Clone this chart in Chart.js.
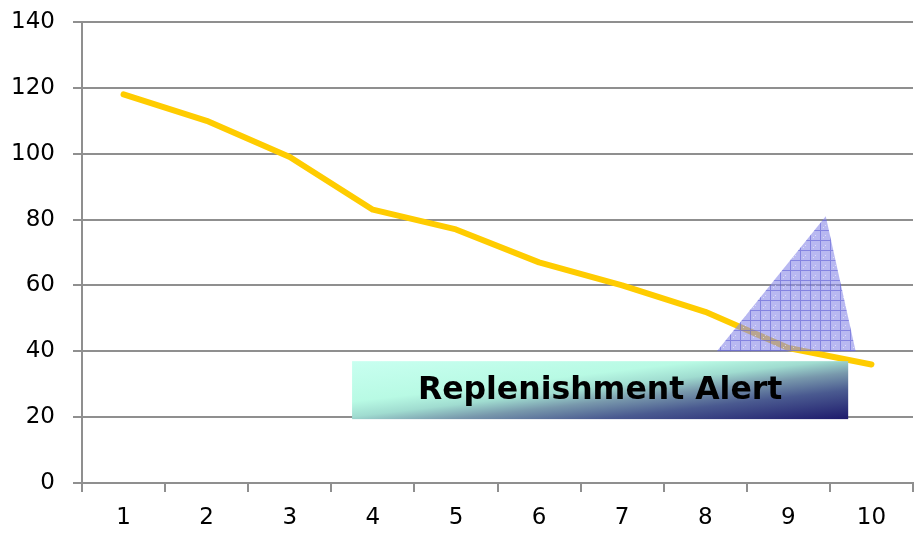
<!DOCTYPE html>
<html><head><meta charset="utf-8">
<script src="https://cdn.jsdelivr.net/npm/chart.js@4/dist/chart.umd.min.js"></script>
<style>html,body{margin:0;padding:0;background:#fff;}#wrap{width:921px;height:537px;}</style>
</head><body><div id="wrap"><canvas id="c" width="921" height="537"></canvas></div>
<script>
const categories = ['1','2','3','4','5','6','7','8','9','10'];
const stockLevel = [118,110,99,83,77,67,60,52,41,36];
const yTicks = [0,20,40,60,80,100,120,140];
// alert triangle vertices (category index, value)
const alertTriangleX = [7.14, 8.45, 8.81];
const alertTriangleY = [40, 81, 40];
// alert box corners (category index, value)
const alertBoxX = [2.75, 8.72];
const alertBoxY = [37, 19.4];
const alertText = 'Replenishment Alert';

const tickFont = {family: "'DejaVu Sans', sans-serif", size: 23};
const gridColor = '#8f8f8f';

function makePattern(ctx){
  const p = document.createElement('canvas');
  p.width = 10; p.height = 10;
  const g = p.getContext('2d');
  g.fillStyle = 'rgba(140,140,232,0.62)';
  g.fillRect(0,0,10,10);
  g.fillStyle = 'rgba(90,90,210,0.55)';
  g.fillRect(0,0,10,1);
  g.fillRect(0,1,1,9);
  g.fillStyle = 'rgba(255,255,255,0.55)';
  g.fillRect(5,5,1,1);
  g.fillRect(3,7,1,1);
  return ctx.createPattern(p,'repeat');
}

const alertPlugin = {
  id: 'alertShapes',
  afterDatasetsDraw(chart){
    const ctx = chart.ctx, xs = chart.scales.x, ys = chart.scales.y;
    // triangle
    ctx.save();
    ctx.beginPath();
    alertTriangleX.forEach((vx,i)=>{
      const px = xs.getPixelForValue(vx), py = ys.getPixelForValue(alertTriangleY[i]);
      if(i===0) ctx.moveTo(px,py); else ctx.lineTo(px,py);
    });
    ctx.closePath();
    ctx.fillStyle = makePattern(ctx);
    ctx.fill();
    ctx.restore();
    // box
    const x0 = xs.getPixelForValue(alertBoxX[0]), x1 = xs.getPixelForValue(alertBoxX[1]);
    const y0 = ys.getPixelForValue(alertBoxY[0]), y1 = ys.getPixelForValue(alertBoxY[1]);
    ctx.save();
    ctx.translate(x0,y0);
    ctx.scale(x1-x0, y1-y0);
    const gr = ctx.createLinearGradient(0,0,1,1);
    gr.addColorStop(0,'#c8fff0');
    gr.addColorStop(0.35,'#b8fae4');
    gr.addColorStop(0.48,'#a0dcd0');
    gr.addColorStop(0.6,'#7898ac');
    gr.addColorStop(0.75,'#4a5a90');
    gr.addColorStop(1,'#1e1a6c');
    ctx.fillStyle = gr;
    ctx.fillRect(0,0,1,1);
    ctx.restore();
    ctx.save();
    ctx.fillStyle = '#000';
    ctx.font = "bold 31.5px 'DejaVu Sans', sans-serif";
    ctx.textAlign = 'center';
    ctx.textBaseline = 'middle';
    ctx.fillText(alertText, (x0+x1)/2, (y0+y1)/2+1);
    ctx.restore();
  }
};

new Chart(document.getElementById('c'), {
  type: 'line',
  data: {
    labels: categories,
    datasets: [{
      data: stockLevel,
      borderColor: '#FFCC00',
      borderWidth: 6,
      pointRadius: 0,
      tension: 0,
      borderCapStyle: 'round',
      borderJoinStyle: 'round'
    }]
  },
  options: {
    responsive: false,
    devicePixelRatio: 1,
    animation: false,
    layout: {padding: {top: 22, right: 8, left: 0, bottom: 0}},
    plugins: {legend: {display: false}, tooltip: {enabled: false}},
    scales: {
      x: {
        type: 'category',
        offset: true,
        grid: {offset: true, drawOnChartArea: false, drawTicks: true, tickLength: 9, color: gridColor, lineWidth: 2},
        border: {display: true, color: gridColor, width: 2},
        ticks: {font: tickFont, color: '#000', padding: 12, maxRotation: 0, autoSkip: false},
        afterFit(s){ s.height = 54; s.paddingLeft = 0; s.paddingRight = 0; }
      },
      y: {
        min: 0, max: 140,
        afterBuildTicks(s){ s.ticks = yTicks.map(v=>({value:v})); },
        grid: {drawTicks: true, tickLength: 9, color: gridColor, lineWidth: 2},
        border: {display: true, color: gridColor, width: 2},
        ticks: {font: tickFont, color: '#000', padding: 18},
        afterFit(s){ s.width = 82; s.paddingTop = 0; s.paddingBottom = 0; }
      }
    }
  },
  plugins: [alertPlugin]
});
</script></body></html>
